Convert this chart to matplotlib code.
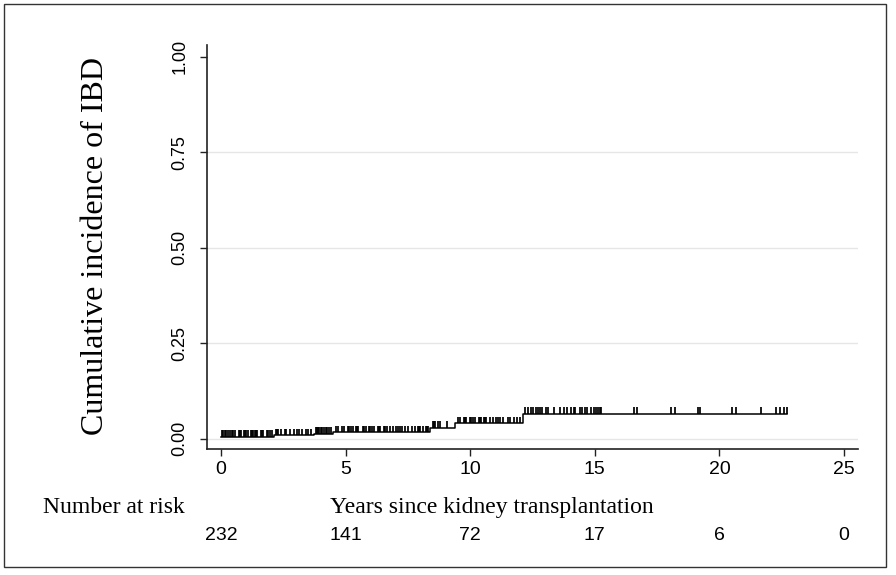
import numpy as np
import matplotlib
matplotlib.use("Agg")
import matplotlib.pyplot as plt
from matplotlib.patches import Rectangle
from matplotlib.transforms import blended_transform_factory

# step function: time each level starts, cumulative incidence level
step_times = [0.0, 2.13, 3.73, 4.5, 8.4, 9.4, 12.1]
step_levels = [0.004, 0.009, 0.013, 0.017, 0.028, 0.040, 0.065]
end_time = 22.72

# censored observations (tick marks)
censor_times = [
    0.05, 0.1, 0.15, 0.2, 0.3, 0.35, 0.45, 0.5, 0.55, 0.72, 0.77, 0.8, 0.92, 0.97, 1.0, 1.08, 1.2, 1.25, 1.28,
    1.38, 1.42, 1.45, 1.6, 1.65, 1.7, 1.85, 1.9, 1.95, 2.05,
    2.2, 2.25, 2.3, 2.4, 2.55, 2.62, 2.78, 2.92, 3.05, 3.15, 3.27, 3.4, 3.48, 3.62,
    3.8, 3.85, 3.88, 3.95, 4.0, 4.05, 4.15, 4.2, 4.25, 4.35, 4.42,
    4.6, 4.68, 4.85, 4.95, 5.1, 5.15, 5.2, 5.3, 5.4, 5.45, 5.5, 5.7, 5.75, 5.8, 5.95, 6.0, 6.05, 6.15, 6.3,
    6.35, 6.4, 6.55, 6.6, 6.65, 6.8, 6.9, 7.02, 7.1, 7.18, 7.25, 7.39, 7.52, 7.68, 7.78, 7.9, 7.95, 8.0, 8.1,
    8.22, 8.27, 8.32,
    8.5, 8.55, 8.6, 8.7, 8.8, 9.05,
    9.5, 9.6, 9.75, 9.8, 9.85, 10.0, 10.05, 10.1, 10.2, 10.35, 10.4, 10.45, 10.55, 10.6, 10.65, 10.78, 10.9,
    11.02, 11.1, 11.2, 11.3, 11.5, 11.58, 11.75, 11.88, 12.0,
    12.2, 12.3, 12.45, 12.52, 12.65, 12.72, 12.8, 12.88, 13.05, 13.12, 13.35, 13.62, 13.78, 13.88, 14.05, 14.15,
    14.22, 14.4, 14.5, 14.6, 14.7, 14.85, 14.95, 15.05, 15.12, 15.2, 15.25, 16.58, 16.68, 18.05, 18.2, 19.15,
    19.22, 20.52, 20.66, 21.65, 22.28, 22.45, 22.6, 22.72,
]

x_ticks = [0, 5, 10, 15, 20, 25]
y_ticks = [0.0, 0.25, 0.5, 0.75, 1.0]
y_tick_labels = ["0.00", "0.25", "0.50", "0.75", "1.00"]
at_risk = [232, 141, 72, 17, 6, 0]

SERIF = "Liberation Serif"
SANS = "Liberation Sans"
W, H = 896, 575

fig = plt.figure(figsize=(W / 100, H / 100), dpi=100)
ax = fig.add_axes([206.5 / W, 1 - 449 / H, (858 - 206.5) / W, (449 - 45) / H])
ax.set_xlim(-0.58, 25.56)
ax.set_ylim(-0.0275, 1.031)

# grid lines
for yv in [0.0, 0.25, 0.5, 0.75]:
    ax.axhline(yv, color="#e6e6e6", lw=1.0, zorder=0)

# step line
xs = list(step_times) + [end_time]
ys = list(step_levels) + [step_levels[-1]]
ax.step(xs, ys, where="post", color="black", lw=1.1, zorder=3)

# censor ticks sit on the curve
ct = np.array(censor_times)
idx = np.searchsorted(step_times, ct, side="right") - 1
base = np.array(step_levels)[idx]
ax.vlines(ct, base, base + 0.017, color="black", lw=1.25, zorder=3)

for side in ["top", "right"]:
    ax.spines[side].set_visible(False)
for side in ["left", "bottom"]:
    ax.spines[side].set_color("#222222")
    ax.spines[side].set_linewidth(1.2)

ax.set_xticks(x_ticks)
ax.set_xticklabels([str(v) for v in x_ticks], fontsize=14, family=SANS)
ax.set_yticks(y_ticks)
ax.set_yticklabels(y_tick_labels, fontsize=13, family=SANS, rotation=90, va="center")
ax.tick_params(axis="x", length=5, width=1, color="#222222", pad=4)
ax.tick_params(axis="y", length=5, width=1, color="#222222", pad=8)

# number at risk row
risk_tf = blended_transform_factory(ax.transData, fig.transFigure)
for xv, n in zip(x_ticks, at_risk):
    ax.text(xv, 1 - 536 / H, str(n), transform=risk_tf,
            ha="center", va="center", fontsize=14, family=SANS)

fig.text(43 / W, 1 - 513 / H, "Number at risk", ha="left", va="baseline",
         fontsize=17, family=SERIF)
fig.text(491.5 / W, 1 - 513 / H, "Years since kidney transplantation", ha="center",
         va="baseline", fontsize=17, family=SERIF)
fig.text(96 / W, 1 - 246 / H, "Cumulative incidence of IBD", ha="center", va="center",
         rotation=90, fontsize=23, family=SERIF)

# outer frame
fig.patches.append(Rectangle((4 / W, 1 - 567 / H), 882 / W, 563 / H, transform=fig.transFigure,
                             fill=False, edgecolor="#333333", lw=1.0))

fig.savefig("out.png", dpi=100)
